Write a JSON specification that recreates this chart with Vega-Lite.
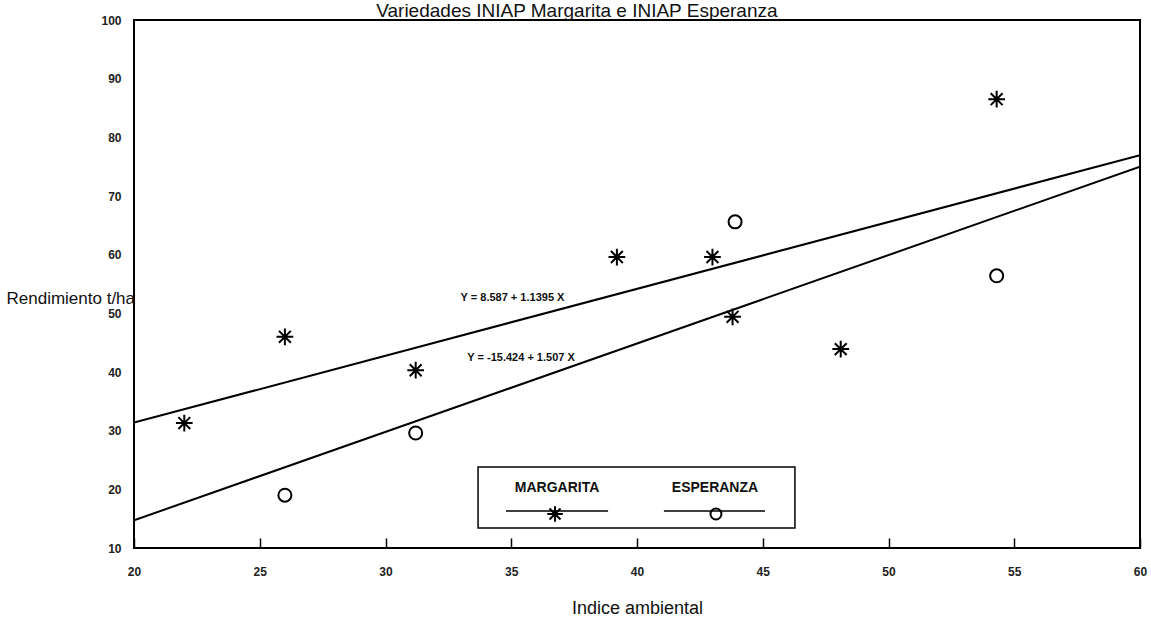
{
  "$schema": "https://vega.github.io/schema/vega-lite/v6.json",
  "width": 1006,
  "height": 528,
  "autosize": {"type": "none"},
  "padding": {"left": 134, "top": 20, "right": 11, "bottom": 75},
  "background": "white",
  "config": {
    "view": {"stroke": "black", "strokeWidth": 2},
    "axis": {"grid": false},
    "text": {"font": "Liberation Sans"}
  },
  "datasets": {
    "puntos": [
      {"variedad": "MARGARITA", "indice": 22.0, "rendimiento": 31.3},
      {"variedad": "MARGARITA", "indice": 26.0, "rendimiento": 46.0},
      {"variedad": "MARGARITA", "indice": 31.2, "rendimiento": 40.3},
      {"variedad": "MARGARITA", "indice": 39.2, "rendimiento": 59.6},
      {"variedad": "MARGARITA", "indice": 43.0, "rendimiento": 59.6},
      {"variedad": "MARGARITA", "indice": 43.8, "rendimiento": 49.4},
      {"variedad": "MARGARITA", "indice": 48.1, "rendimiento": 43.9},
      {"variedad": "MARGARITA", "indice": 54.3, "rendimiento": 86.5},
      {"variedad": "ESPERANZA", "indice": 26.0, "rendimiento": 19.0},
      {"variedad": "ESPERANZA", "indice": 31.2, "rendimiento": 29.6},
      {"variedad": "ESPERANZA", "indice": 43.9, "rendimiento": 65.6},
      {"variedad": "ESPERANZA", "indice": 54.3, "rendimiento": 56.4}
    ],
    "rectas": [
      {"variedad": "MARGARITA", "indice": 20, "rendimiento": 31.38},
      {"variedad": "MARGARITA", "indice": 60, "rendimiento": 76.96},
      {"variedad": "ESPERANZA", "indice": 20, "rendimiento": 14.72},
      {"variedad": "ESPERANZA", "indice": 60, "rendimiento": 75.0}
    ],
    "uno": [{}]
  },
  "layer": [
    {
      "data": {"name": "rectas"},
      "mark": {"type": "line", "color": "black", "strokeWidth": 2, "clip": true},
      "encoding": {
        "x": {
          "field": "indice",
          "type": "quantitative",
          "scale": {"domain": [20, 60], "nice": false, "zero": false},
          "axis": {
            "title": "Indice ambiental",
            "values": [20, 25, 30, 35, 40, 45, 50, 55, 60],
            "domain": false,
            "tickSize": -10,
            "tickColor": "black",
            "tickWidth": 1.5,
            "labelFont": "Liberation Sans",
            "labelFontWeight": "bold",
            "labelFontSize": 12,
            "labelColor": "#222222",
            "labelPadding": 28,
            "labelFlush": false,
            "titleFont": "Liberation Sans",
            "titleFontSize": 18,
            "titleFontWeight": "normal",
            "titleColor": "#111111",
            "titlePadding": 22
          }
        },
        "y": {
          "field": "rendimiento",
          "type": "quantitative",
          "scale": {"domain": [10, 100], "nice": false, "zero": false},
          "axis": {
            "title": "Rendimiento t/ha",
            "values": [10, 20, 30, 40, 50, 60, 70, 80, 90, 100],
            "domain": false,
            "ticks": false,
            "labelFont": "Liberation Sans",
            "labelFontWeight": "bold",
            "labelFontSize": 12,
            "labelColor": "#222222",
            "labelPadding": 13,
            "labelFlush": false,
            "titleFont": "Liberation Sans",
            "titleFontSize": 17,
            "titleFontWeight": "normal",
            "titleColor": "#111111",
            "titleAngle": 0,
            "titleAlign": "left",
            "titleBaseline": "middle",
            "titleX": -128,
            "titleY": 278
          }
        },
        "detail": {"field": "variedad"}
      }
    },
    {
      "data": {"name": "puntos"},
      "mark": {"type": "point", "filled": false, "color": "black", "strokeWidth": 2, "opacity": 1},
      "encoding": {
        "x": {"field": "indice", "type": "quantitative"},
        "y": {"field": "rendimiento", "type": "quantitative"},
        "shape": {
          "field": "variedad",
          "type": "nominal",
          "scale": {"domain": ["MARGARITA", "ESPERANZA"], "range": ["M-1,0L1,0M0,-1L0,1M-0.71,-0.71L0.71,0.71M-0.71,0.71L0.71,-0.71", "circle"]},
          "legend": null
        },
        "size": {
          "field": "variedad",
          "type": "nominal",
          "scale": {"domain": ["MARGARITA", "ESPERANZA"], "range": [280, 170]},
          "legend": null
        }
      }
    },
    {
      "data": {"name": "uno"},
      "mark": {"type": "text", "fontSize": 19, "fontWeight": "normal", "color": "#111111", "align": "center", "baseline": "alphabetic", "clip": false},
      "encoding": {
        "x": {"datum": 37.61, "type": "quantitative"},
        "y": {"datum": 100.43, "type": "quantitative"},
        "text": {"value": "Variedades INIAP Margarita e INIAP Esperanza"}
      }
    },
    {
      "data": {"name": "uno"},
      "mark": {"type": "text", "fontSize": 11, "fontWeight": "bold", "color": "#111111", "align": "center", "baseline": "middle"},
      "encoding": {
        "x": {"datum": 35.05, "type": "quantitative"},
        "y": {"datum": 52.6, "type": "quantitative"},
        "text": {"value": "Y = 8.587 + 1.1395 X"}
      }
    },
    {
      "data": {"name": "uno"},
      "mark": {"type": "text", "fontSize": 11, "fontWeight": "bold", "color": "#111111", "align": "center", "baseline": "middle"},
      "encoding": {
        "x": {"datum": 35.39, "type": "quantitative"},
        "y": {"datum": 42.4, "type": "quantitative"},
        "text": {"value": "Y = -15.424 + 1.507 X"}
      }
    },
    {
      "data": {"name": "uno"},
      "mark": {"type": "rect", "fill": "white", "stroke": "black", "strokeWidth": 1.5},
      "encoding": {
        "x": {"datum": 33.68, "type": "quantitative"},
        "x2": {"datum": 46.28},
        "y": {"datum": 13.41, "type": "quantitative"},
        "y2": {"datum": 23.81}
      }
    },
    {
      "data": {"name": "uno"},
      "mark": {"type": "text", "fontSize": 14, "fontWeight": "bold", "color": "#111111", "align": "center", "baseline": "middle"},
      "encoding": {
        "x": {"datum": 36.82, "type": "quantitative"},
        "y": {"datum": 20.23, "type": "quantitative"},
        "text": {"value": "MARGARITA"}
      }
    },
    {
      "data": {"name": "uno"},
      "mark": {"type": "text", "fontSize": 14, "fontWeight": "bold", "color": "#111111", "align": "center", "baseline": "middle"},
      "encoding": {
        "x": {"datum": 43.1, "type": "quantitative"},
        "y": {"datum": 20.23, "type": "quantitative"},
        "text": {"value": "ESPERANZA"}
      }
    },
    {
      "data": {"name": "uno"},
      "mark": {"type": "rule", "color": "black", "strokeWidth": 1.5},
      "encoding": {
        "x": {"datum": 34.79, "type": "quantitative"},
        "x2": {"datum": 38.85},
        "y": {"datum": 16.31, "type": "quantitative"}
      }
    },
    {
      "data": {"name": "uno"},
      "mark": {"type": "rule", "color": "black", "strokeWidth": 1.5},
      "encoding": {
        "x": {"datum": 41.07, "type": "quantitative"},
        "x2": {"datum": 45.09},
        "y": {"datum": 16.31, "type": "quantitative"}
      }
    },
    {
      "data": {"name": "uno"},
      "mark": {"type": "point", "filled": false, "color": "black", "strokeWidth": 2, "opacity": 1, "size": 240, "shape": "M-1,0L1,0M0,-1L0,1M-0.71,-0.71L0.71,0.71M-0.71,0.71L0.71,-0.71"},
      "encoding": {
        "x": {"datum": 36.74, "type": "quantitative"},
        "y": {"datum": 15.8, "type": "quantitative"}
      }
    },
    {
      "data": {"name": "uno"},
      "mark": {"type": "point", "filled": false, "color": "black", "strokeWidth": 2, "opacity": 1, "size": 120, "shape": "circle"},
      "encoding": {
        "x": {"datum": 43.14, "type": "quantitative"},
        "y": {"datum": 15.8, "type": "quantitative"}
      }
    }
  ]
}
